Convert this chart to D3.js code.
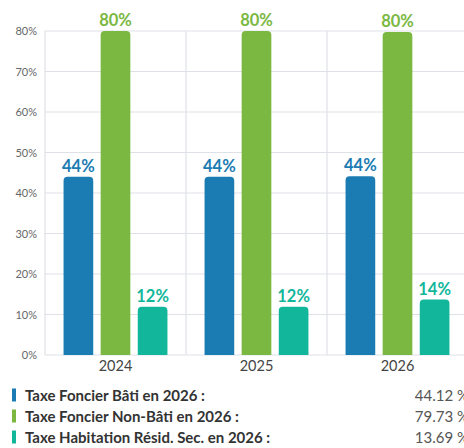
<!DOCTYPE html>
<html><head><meta charset="utf-8">
<script src="https://cdn.jsdelivr.net/npm/d3@7"></script>
<style>body{margin:0;background:#fff;overflow:hidden}svg{display:block;font-family:Lato,"Open Sans",sans-serif}</style>
</head><body>
<svg id="c" width="464" height="448"></svg>
<script>
const years = ["2024", "2025", "2026"];
const seriesNames = ["Taxe Foncier Bâti", "Taxe Foncier Non-Bâti", "Taxe Habitation Résid. Sec."];
const bati = [44, 44, 44.12];
const nonBati = [80, 80, 79.73];
const habitation = [11.9, 11.9, 13.69];
const yTicks = [0, 10, 20, 30, 40, 50, 60, 70, 80];
const legendLabels = ["Taxe Foncier Bâti en 2026 :", "Taxe Foncier Non-Bâti en 2026 :", "Taxe Habitation Résid. Sec. en 2026 :"];
const legendValues = ["44.12 %", "79.73 %", "13.69 %"];
const colors = ["#1b7cb3", "#7ab842", "#12b69a"];

const series = [bati, nonBati, habitation];
const svg = d3.select("#c");
const x = d3.scaleBand().domain(years).range([45, 468]).paddingInner(0).paddingOuter(0);
const y = d3.scaleLinear().domain([0, 80]).range([355, 31]);
const xs = d3.scaleBand().domain(d3.range(3)).range([0, x.bandwidth()]).paddingInner(0.2).paddingOuter(0.5);

// grid
const g = svg.append("g");
g.selectAll("line.h").data(yTicks).join("line")
  .attr("x1", 45).attr("x2", 468).attr("y1", d => y(d)).attr("y2", d => y(d))
  .attr("stroke", "#dfe1e8").attr("stroke-width", 1.2);
g.selectAll("line.v").data(years).join("line")
  .attr("x1", d => x(d)).attr("x2", d => x(d)).attr("y1", 31).attr("y2", 355)
  .attr("stroke", "#dfe1e8").attr("stroke-width", 1.2);

// y axis
const ya = svg.append("g").attr("transform", "translate(45,0)")
  .call(d3.axisLeft(y).tickValues(yTicks).tickFormat(d => d + "%").tickSize(0).tickPadding(8));
ya.select(".domain").remove();
ya.selectAll("text").attr("fill", "#666").attr("font-size", 11).attr("font-family", "Lato");

// x axis
const xa = svg.append("g").attr("transform", "translate(0,355)")
  .call(d3.axisBottom(x).tickSize(0).tickPadding(6));
xa.select(".domain").remove();
xa.selectAll("text").attr("fill", "#444").attr("font-size", 14.5).attr("font-family", "Lato");

// bars
const r = 4;
function barPath(x0, w, yt, yb) {
  return `M${x0},${yb}V${yt + r}Q${x0},${yt} ${x0 + r},${yt}H${x0 + w - r}Q${x0 + w},${yt} ${x0 + w},${yt + r}V${yb}Z`;
}
years.forEach((yr, i) => {
  series.forEach((s, j) => {
    const bx = x(yr) + xs(j), bw = xs.bandwidth();
    svg.append("path").attr("d", barPath(bx, bw, y(s[i]), y(0))).attr("fill", colors[j]);
    svg.append("text").attr("x", bx + bw / 2).attr("y", y(s[i]) - 5)
      .attr("text-anchor", "middle").attr("font-size", 16.5).attr("font-weight", 700)
      .attr("fill", colors[j]).text(Math.round(s[i]) + "%");
  });
});

// legend
const ly = [395, 416, 437];
legendLabels.forEach((t, j) => {
  svg.append("rect").attr("x", 12).attr("y", ly[j] - 6.5).attr("width", 4).attr("height", 13).attr("fill", colors[j]);
  svg.append("text").attr("x", 25).attr("y", ly[j] + 5.5).attr("font-size", 15).attr("font-weight", 700)
    .attr("fill", "#333").text(t);
  svg.append("text").attr("x", 469).attr("y", ly[j] + 5.5).attr("text-anchor", "end").attr("font-size", 15)
    .attr("fill", "#555").text(legendValues[j]);
});
</script>
</body></html>
